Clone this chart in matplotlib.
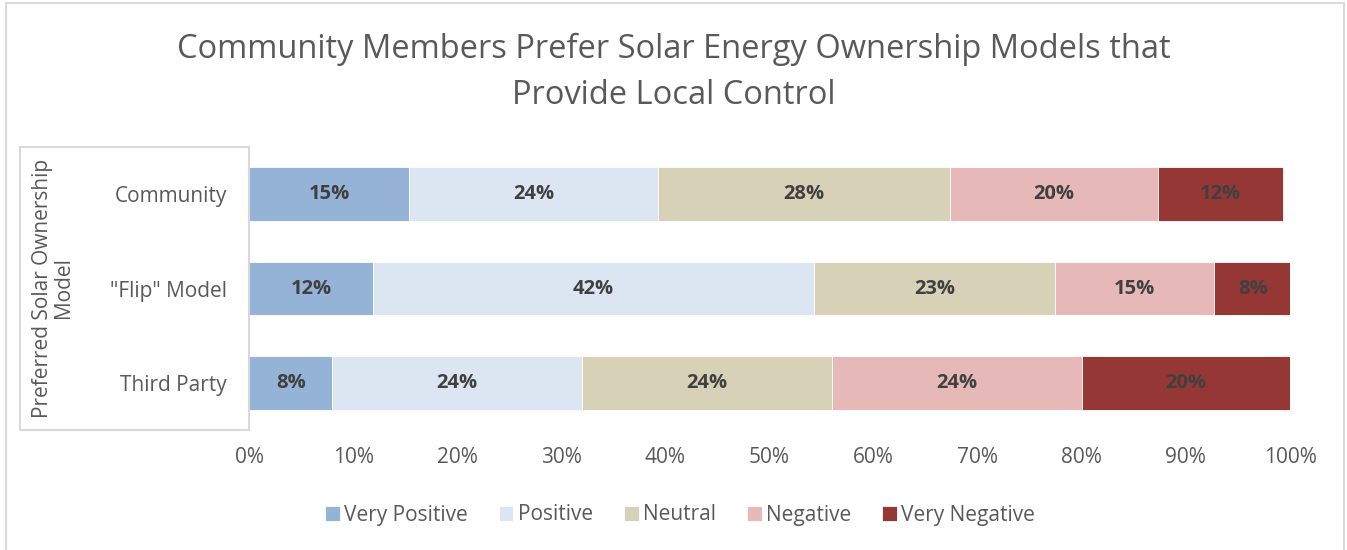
import numpy as np
import matplotlib
matplotlib.use("Agg")
from matplotlib import pyplot as plt
from matplotlib.patches import Rectangle

plt.rcParams['font.family'] = ['Open Sans', 'DejaVu Sans']

models = ["Community", '"Flip" Model', "Third Party"]
series = ["Very Positive", "Positive", "Neutral", "Negative", "Very Negative"]
very_positive = [15.4, 11.9, 8.0]
positive = [23.9, 42.4, 24.0]
neutral = [28.0, 23.1, 24.0]
negative = [20.0, 15.3, 24.0]
very_negative = [12.0, 7.6, 20.0]
labels = [["15%", "12%", "8%"],
          ["24%", "42%", "24%"],
          ["28%", "23%", "24%"],
          ["20%", "15%", "24%"],
          ["12%", "8%", "20%"]]
colors = ["#95B3D7", "#DCE6F2", "#D7D2B7", "#E6B9B8", "#953735"]
xticks = [0, 10, 20, 30, 40, 50, 60, 70, 80, 90, 100]

fig = plt.figure(figsize=(13.47, 5.5), dpi=100)
ax = fig.add_axes([249/1347, 1-430/550, 1041/1347, 283/550])

ypos = np.arange(len(models))
left = np.zeros(len(models))
handles = []
for i, vals in enumerate([very_positive, positive, neutral, negative, very_negative]):
    bars = ax.barh(ypos, vals, left=left, height=0.57, color=colors[i],
                   edgecolor="white", linewidth=0.6, label=series[i])
    handles.append(bars)
    for j, v in enumerate(vals):
        ax.text(left[j] + v/2, ypos[j], labels[i][j], ha="center", va="center",
                fontsize=14.5, fontweight="bold", color="#404040")
    left += np.array(vals)

ax.set_xlim(0, 100)
ax.set_ylim(2.5, -0.5)
ax.set_yticks(ypos)
ax.set_yticklabels(models, fontsize=15, color="#595959")
ax.set_xticks(xticks)
ax.set_xticklabels([f"{t}%" for t in xticks], fontsize=15, color="#595959")
ax.tick_params(axis="both", length=0)
ax.tick_params(axis="y", pad=16)
ax.tick_params(axis="x", pad=12)
for s in ["top", "right", "bottom"]:
    ax.spines[s].set_visible(False)
ax.spines["left"].set_color("#D9D9D9")
ax.spines["left"].set_linewidth(1.5)

fig.text(53/1347, 1-288/550, "Preferred Solar Ownership\nModel", rotation=90,
         ha="center", va="center", fontsize=15, color="#595959",
         linespacing=1.05, multialignment="center")

fig.text(0.5, 1-33/550,
         "Community Members Prefer Solar Energy Ownership Models that\nProvide Local Control",
         ha="center", va="top", fontsize=23.5, color="#595959", linespacing=1.5)

# selection box round the vertical axis and outer chart border
fig.patches.append(Rectangle((20/1347, 1-430/550), 229/1347, 283/550,
                             transform=fig.transFigure, fill=False,
                             edgecolor="#D9D9D9", linewidth=1.5))
fig.patches.append(Rectangle((6/1347, -0.05), 1338/1347, 1.05 - 3/550,
                             transform=fig.transFigure, fill=False,
                             edgecolor="#D9D9D9", linewidth=1.5))

fig.legend(handles=handles, loc="center", bbox_to_anchor=(680/1347, 1-515/550),
           ncol=5, frameon=False, fontsize=15, labelcolor="#595959",
           handlelength=0.7, handleheight=0.7, handletextpad=0.2,
           columnspacing=1.5)

fig.savefig("out.png", dpi=100)
